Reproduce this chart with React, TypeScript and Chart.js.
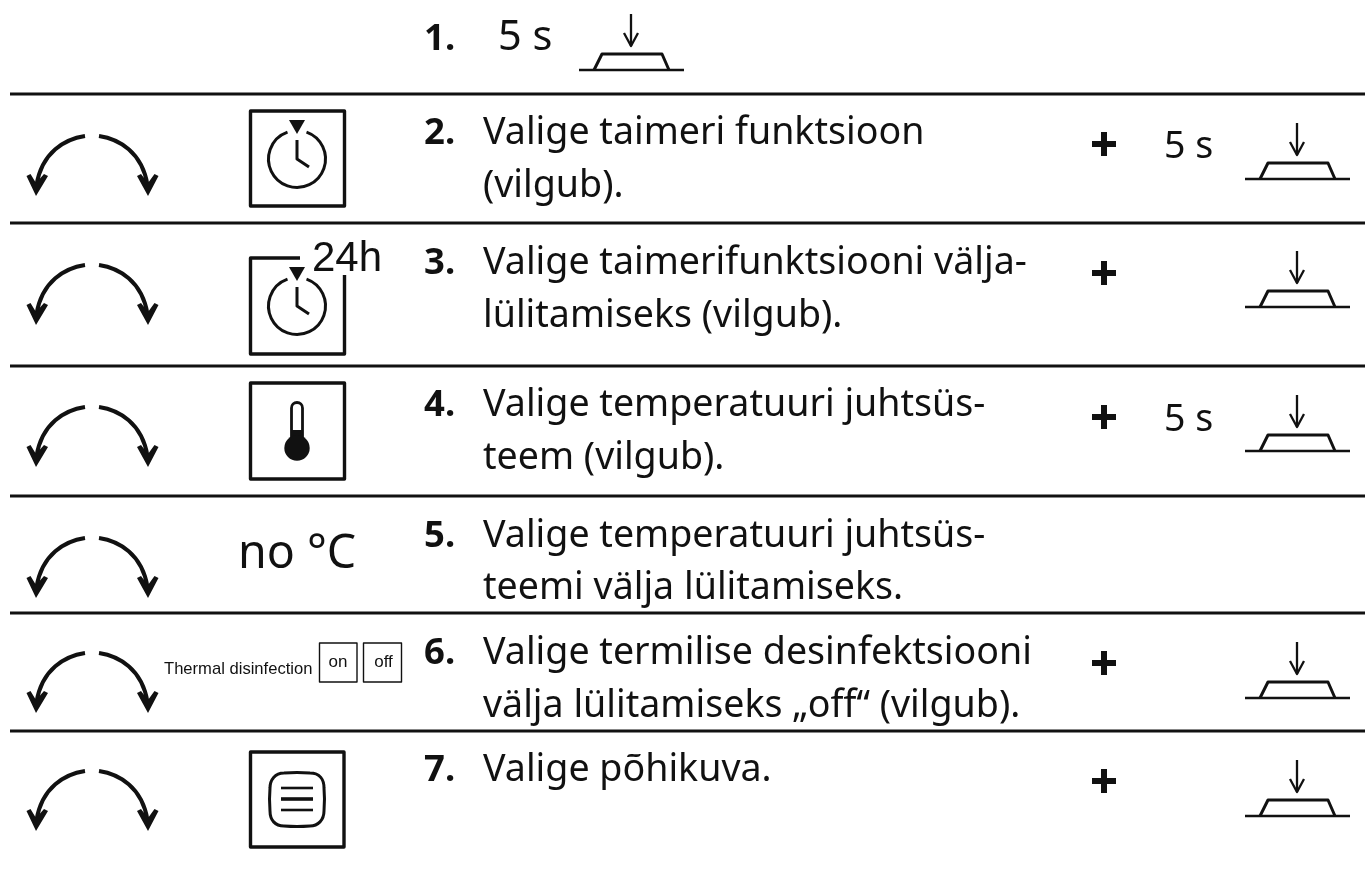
import React, { useEffect, useRef } from "react";
import { Chart, registerables } from "chart.js";

Chart.register(...registerables);

const INK = "#111111";
const BODY_FONT = '"Noto Sans"';
const ICON_FONT = '"Liberation Sans"';

// table rules
const ruleRows = [94, 223, 366, 496, 613, 731];
const ruleStart = 10;
const ruleEnd = 1365;

// step numbers and text
const stepNumbers = ["1.", "2.", "3.", "4.", "5.", "6.", "7."];
const stepNumberBaselines = [50, 144, 274, 416, 547, 664, 781];
const textLines = [
  "Valige taimeri funktsioon",
  "(vilgub).",
  "Valige taimerifunktsiooni välja-",
  "lülitamiseks (vilgub).",
  "Valige temperatuuri juhtsüs-",
  "teem (vilgub).",
  "Valige temperatuuri juhtsüs-",
  "teemi välja lülitamiseks.",
  "Valige termilise desinfektsiooni",
  "välja lülitamiseks „off“ (vilgub).",
  "Valige põhikuva.",
];
const textLineBaselines = [144, 197, 274, 327, 416, 469, 547, 599, 664, 717, 781];

// right-hand column
const plusRows = [144, 273, 417, 663, 781];
const holdLabel = "5 s";
const holdBaselines = [158, 431];
const pressBaselines = [179, 307, 451, 698, 816];
const pressFirstBaseline = 70;

// rotary arrows (top of the arcs)
const arcTops = [136, 265, 407, 538, 653, 771];

// icon rows
const timerBoxTop = 110;
const timer24BoxTop = 257;
const thermoBoxTop = 382;
const menuBoxTop = 751;
const noTempLabel = "no °C";
const timer24Label = "24h";
const thermalLabel = "Thermal disinfection";
const thermalOptions = ["on", "off"];

export default function App() {
  const ref = useRef<HTMLCanvasElement | null>(null);

  useEffect(() => {
    document.body.style.margin = "0";
    const canvas = ref.current!;

    const glyphs = {
      id: "glyphs",
      afterDatasetsDraw(chart: any) {
        const { ctx, scales } = chart;
        const X = (v: number) => scales.x.getPixelForValue(v);
        const Y = (v: number) => scales.y.getPixelForValue(v);
        ctx.save();
        ctx.strokeStyle = INK;
        ctx.fillStyle = INK;
        ctx.lineCap = "butt";
        ctx.lineJoin = "round";

        const text = (s: string, x: number, y: number, font: string, align: CanvasTextAlign = "left") => {
          ctx.font = font;
          ctx.textAlign = align;
          ctx.textBaseline = "alphabetic";
          ctx.fillText(s, X(x), Y(y));
        };
        const poly = (pts: number[][], w: number, close = false) => {
          ctx.lineWidth = w;
          ctx.beginPath();
          pts.forEach((p, i) => (i ? ctx.lineTo(X(p[0]), Y(p[1])) : ctx.moveTo(X(p[0]), Y(p[1]))));
          if (close) ctx.closePath();
          ctx.stroke();
        };
        const fillPoly = (pts: number[][]) => {
          ctx.beginPath();
          pts.forEach((p, i) => (i ? ctx.lineTo(X(p[0]), Y(p[1])) : ctx.moveTo(X(p[0]), Y(p[1]))));
          ctx.closePath();
          ctx.fill();
        };
        const box = (x0: number, y0: number, x1: number, y1: number, w: number) => {
          poly([[x0, y0], [x1, y0], [x1, y1], [x0, y1]], w, true);
        };

        // step numbers and body text
        stepNumbers.forEach((n, i) => text(n, 424, stepNumberBaselines[i], `bold 36.5px ${BODY_FONT}`));
        textLines.forEach((t, i) => text(t, 483, textLineBaselines[i], `37.6px ${BODY_FONT}`));
        text(holdLabel, 498, pressFirstBaseline - 20, `41.5px ${BODY_FONT}`);
        holdBaselines.forEach((y) => text(holdLabel, 1164, y, `37.6px ${BODY_FONT}`));
        plusRows.forEach((y) => {
          poly([[1092, y], [1116, y]], 6);
          poly([[1104, y - 12], [1104, y + 12]], 6);
        });

        // press-button symbol
        const press = (cx: number, by: number) => {
          poly([[cx - 52, by], [cx + 53, by]], 2.6);
          poly([[cx - 37, by], [cx - 29, by - 16], [cx + 31, by - 16], [cx + 38, by]], 3);
          poly([[cx, by - 56], [cx, by - 24]], 2.3);
          poly([[cx - 7, by - 37], [cx, by - 24], [cx + 7, by - 37]], 2.3);
        };
        press(631, pressFirstBaseline);
        pressBaselines.forEach((y) => press(1297, y));

        // rotary arrows
        arcTops.forEach((top) => {
          ctx.lineWidth = 4;
          ctx.beginPath();
          ctx.moveTo(X(85), Y(top));
          ctx.bezierCurveTo(X(65), Y(top + 3), X(42), Y(top + 16), X(36.5), Y(top + 49));
          ctx.stroke();
          ctx.beginPath();
          ctx.moveTo(X(99), Y(top));
          ctx.bezierCurveTo(X(119), Y(top + 3), X(142), Y(top + 16), X(147.5), Y(top + 49));
          ctx.stroke();
          const head = (cx: number, l: number, r: number) =>
            fillPoly([
              [cx, top + 60],
              [cx + l, top + 40],
              [cx + l + 4, top + 38],
              [cx, top + 47],
              [cx + r - 4, top + 38],
              [cx + r, top + 40],
            ]);
          head(36, -9.5, 12);
          head(148, -11, 10.5);
        });

        // clock symbol
        const clock = (boxTop: number) => {
          const cx = 297;
          const cy = boxTop + 49;
          const r = 28.5;
          ctx.lineWidth = 3;
          ctx.beginPath();
          ctx.arc(X(cx), Y(cy), r, -Math.PI / 2 + 0.34, -Math.PI / 2 - 0.34 + Math.PI * 2);
          ctx.stroke();
          fillPoly([[cx - 8, boxTop + 10], [cx + 8, boxTop + 10], [cx, boxTop + 24]]);
          poly([[cx, boxTop + 30], [cx, boxTop + 49], [cx + 12, boxTop + 57]], 3);
        };

        box(250.5, timerBoxTop + 1, 344.5, timerBoxTop + 96, 3.4);
        clock(timerBoxTop);

        poly([[300, timer24BoxTop + 1], [250.5, timer24BoxTop + 1], [250.5, timer24BoxTop + 97], [344.5, timer24BoxTop + 97], [344.5, timer24BoxTop + 18]], 3.4);
        clock(timer24BoxTop);
        text(timer24Label, 312, 271, `42px ${ICON_FONT}`);

        // thermometer
        box(250.5, thermoBoxTop + 1, 344.5, thermoBoxTop + 97, 3.4);
        ctx.lineWidth = 2.8;
        ctx.beginPath();
        ctx.moveTo(X(291.5), Y(440));
        ctx.lineTo(X(291.5), Y(408));
        ctx.arc(X(297), Y(408), 5.5, Math.PI, 0);
        ctx.lineTo(X(302.5), Y(440));
        ctx.stroke();
        ctx.fillRect(X(291), Y(430), 12, 20);
        ctx.beginPath();
        ctx.arc(X(297), Y(448), 12.7, 0, Math.PI * 2);
        ctx.fill();

        // no °C
        text(noTempLabel, 238, 568, `46.5px ${BODY_FONT}`);

        // thermal disinfection
        text(thermalLabel, 164, 674, `16.6px ${ICON_FONT}`);
        box(319.5, 643, 357, 682, 1.4);
        box(363.5, 643, 401.5, 682, 1.4);
        text(thermalOptions[0], 338, 667, `17px ${ICON_FONT}`, "center");
        text(thermalOptions[1], 383.5, 667, `17px ${ICON_FONT}`, "center");

        // menu symbol
        box(250.5, menuBoxTop + 1, 344, menuBoxTop + 96, 3.4);
        ctx.lineWidth = 3;
        ctx.beginPath();
        ctx.moveTo(X(284), Y(773));
        ctx.quadraticCurveTo(X(297), Y(772), X(310), Y(773));
        ctx.bezierCurveTo(X(320), Y(773), X(324), Y(780), X(324), Y(788));
        ctx.quadraticCurveTo(X(325), Y(799), X(324), Y(811));
        ctx.bezierCurveTo(X(324), Y(820), X(318), Y(826), X(310), Y(826));
        ctx.quadraticCurveTo(X(297), Y(827), X(284), Y(826));
        ctx.bezierCurveTo(X(275), Y(826), X(270), Y(820), X(270), Y(811));
        ctx.quadraticCurveTo(X(269), Y(799), X(270), Y(788));
        ctx.bezierCurveTo(X(270), Y(780), X(275), Y(773), X(284), Y(773));
        ctx.stroke();
        poly([[281, 788], [313, 788]], 2.6);
        poly([[281, 799], [313, 799]], 3.6);
        poly([[281, 810], [313, 810]], 2.6);

        ctx.restore();
      },
    };

    const chart = new Chart(canvas, {
      type: "scatter",
      data: {
        datasets: ruleRows.map((y) => ({
          data: [
            { x: ruleStart, y },
            { x: ruleEnd, y },
          ],
          showLine: true,
          borderColor: INK,
          borderWidth: 3,
          pointRadius: 0,
        })),
      },
      options: {
        animation: false,
        responsive: false,
        layout: { padding: 0 },
        plugins: { legend: { display: false }, tooltip: { enabled: false } },
        scales: {
          x: { type: "linear", min: 0, max: 1365, display: false },
          y: { type: "linear", min: 0, max: 871, reverse: true, display: false },
        },
      },
      plugins: [glyphs],
    });
    return () => chart.destroy();
  }, []);

  return <canvas ref={ref} width={1365} height={871} style={{ display: "block" }} />;
}
